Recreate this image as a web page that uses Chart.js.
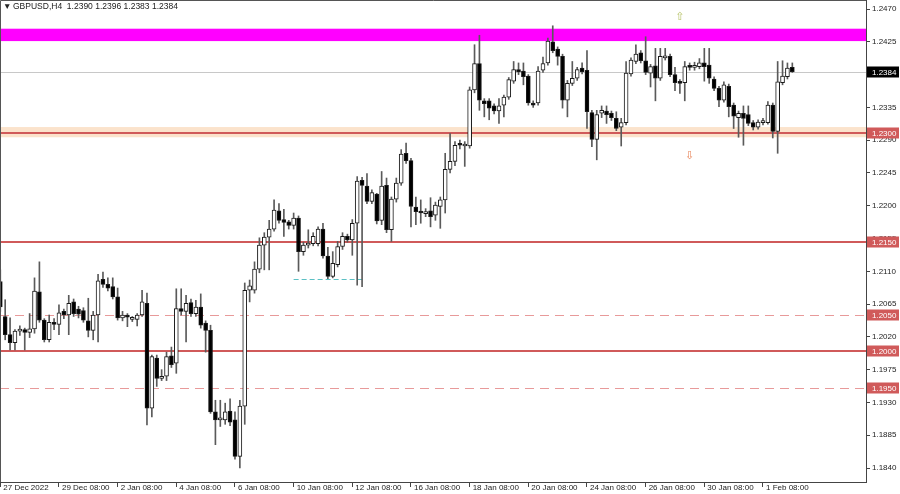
<!DOCTYPE html>
<html>
<head>
<meta charset="utf-8">
<script src="https://cdn.jsdelivr.net/npm/chart.js@4.4.0/dist/chart.umd.min.js"></script>
<style>
  html, body { margin: 0; padding: 0; background: #ffffff; }
  #wrap { width: 900px; height: 494px; position: relative; }
</style>
</head>
<body>
<div id="wrap"><canvas id="chart"></canvas></div>
<script>
// GBPUSD H4 candles (bar 0 = 27 Dec 08:00)
const opens = [
  1.2096, 1.2048, 1.2023, 1.2012, 1.2028, 1.2030, 1.2026, 1.2031, 1.2082, 1.2043,
  1.2016, 1.2040, 1.2037, 1.2055, 1.2050, 1.2068, 1.2058, 1.2056, 1.2042, 1.2029,
  1.2050, 1.2099, 1.2092, 1.2089, 1.2075, 1.2046, 1.2050, 1.2044, 1.2044, 1.2050,
  1.2066, 1.1922, 1.1991, 1.1963, 1.1966, 1.1994, 1.1984, 1.2059, 1.2055, 1.2067,
  1.2052, 1.2061, 1.2039, 1.2029, 1.1917, 1.1906, 1.1906, 1.1918, 1.1906, 1.1856,
  1.1925, 1.2084, 1.2084, 1.2113, 1.2146, 1.2157, 1.2168, 1.2193, 1.2181, 1.2178,
  1.2173, 1.2183, 1.2137, 1.2146, 1.2148, 1.2148, 1.2168, 1.2131, 1.2103, 1.2119,
  1.2144, 1.2158, 1.2153, 1.2176, 1.2235, 1.2227, 1.2206, 1.2216, 1.2180, 1.2228,
  1.2167, 1.2209, 1.2231, 1.2272, 1.2262, 1.2198, 1.2192, 1.2189, 1.2193, 1.2187,
  1.2199, 1.2208, 1.2250, 1.2261, 1.2285, 1.2282, 1.2282, 1.2359, 1.2395, 1.2344,
  1.2344, 1.2337, 1.2330, 1.2338, 1.2349, 1.2371, 1.2386, 1.2385, 1.2378, 1.2341,
  1.2341, 1.2386, 1.2396, 1.2425, 1.2415, 1.2405, 1.2345, 1.2368, 1.2375, 1.2389,
  1.2386, 1.2328, 1.2291, 1.2327, 1.2330, 1.2327, 1.2320, 1.2308, 1.2314, 1.2381,
  1.2398, 1.2410, 1.2399, 1.2382, 1.2392, 1.2375, 1.2403, 1.2405, 1.2380, 1.2370,
  1.2369, 1.2392, 1.2390, 1.2391, 1.2396, 1.2393, 1.2374, 1.2361, 1.2345, 1.2364,
  1.2338, 1.2321, 1.2327, 1.2325, 1.2314, 1.2308, 1.2314, 1.2314, 1.2338, 1.2302,
  1.2369, 1.2377, 1.2390
];
const highs = [
  1.2112, 1.2071, 1.2046, 1.2030, 1.2035, 1.2032, 1.2052, 1.2101, 1.2123, 1.2045,
  1.2050, 1.2045, 1.2064, 1.2058, 1.2077, 1.2072, 1.2062, 1.2060, 1.2073, 1.2055,
  1.2106, 1.2109, 1.2101, 1.2101, 1.2087, 1.2055, 1.2052, 1.2048, 1.2052, 1.2084,
  1.2080, 1.1995, 1.1995, 1.1975, 1.1999, 1.2006, 1.2086, 1.2086, 1.2077, 1.2072,
  1.2070, 1.2079, 1.2042, 1.2036, 1.1933, 1.1933, 1.1929, 1.1935, 1.1917, 1.1933,
  1.2094, 1.2098, 1.2123, 1.2156, 1.2163, 1.2180, 1.2208, 1.2203, 1.2195, 1.2180,
  1.2190, 1.2186, 1.2150, 1.2167, 1.2163, 1.2171, 1.2176, 1.2143, 1.2137, 1.2151,
  1.2163, 1.2161, 1.2181, 1.2240, 1.2239, 1.2244, 1.2222, 1.2217, 1.2247, 1.2238,
  1.2212, 1.2238, 1.2277, 1.2286, 1.2265, 1.2212, 1.2208, 1.2196, 1.2211, 1.2205,
  1.2212, 1.2272, 1.2299, 1.2288, 1.2290, 1.2288, 1.2363, 1.2421, 1.2434, 1.2347,
  1.2347, 1.2340, 1.2347, 1.2352, 1.2376, 1.2398, 1.2396, 1.2396, 1.2380, 1.2344,
  1.2391, 1.2404, 1.2430, 1.2447, 1.2418, 1.2408, 1.2372, 1.2398, 1.2390, 1.2396,
  1.2413, 1.2331, 1.2331, 1.2337, 1.2337, 1.2330, 1.2329, 1.2320, 1.2398, 1.2403,
  1.2421, 1.2413, 1.2432, 1.2394, 1.2416, 1.2416, 1.2416, 1.2408, 1.2390, 1.2373,
  1.2398, 1.2396, 1.2397, 1.2402, 1.2416, 1.2416, 1.2377, 1.2364, 1.2370, 1.2367,
  1.2341, 1.2330, 1.2337, 1.2337, 1.2317, 1.2318, 1.2320, 1.2343, 1.2341, 1.2398,
  1.2399, 1.2396, 1.2396
];
const lows = [
  1.2055, 1.2016, 1.2002, 1.2002, 1.2022, 1.2002, 1.2019, 1.2025, 1.2040, 1.2013,
  1.2013, 1.2030, 1.2023, 1.2045, 1.2023, 1.2048, 1.2046, 1.2040, 1.2020, 1.2016,
  1.2013, 1.2088, 1.2083, 1.2072, 1.2043, 1.2042, 1.2034, 1.2041, 1.2035, 1.2048,
  1.1899, 1.1910, 1.1952, 1.1960, 1.1960, 1.1978, 1.1970, 1.2050, 1.2013, 1.2048,
  1.2048, 1.2032, 1.1999, 1.1915, 1.1872, 1.1897, 1.1900, 1.1898, 1.1852, 1.1840,
  1.1900, 1.2068, 1.2080, 1.2108, 1.2112, 1.2112, 1.2165, 1.2176, 1.2158, 1.2168,
  1.2168, 1.2110, 1.2132, 1.2142, 1.2145, 1.2145, 1.2128, 1.2100, 1.2101, 1.2116,
  1.2140, 1.2150, 1.2132, 1.2091, 1.2089, 1.2203, 1.2203, 1.2175, 1.2174, 1.2163,
  1.2151, 1.2205, 1.2228, 1.2258, 1.2171, 1.2174, 1.2176, 1.2185, 1.2171, 1.2180,
  1.2169, 1.2190, 1.2245, 1.2255, 1.2278, 1.2254, 1.2279, 1.2355, 1.2331, 1.2322,
  1.2318, 1.2326, 1.2313, 1.2322, 1.2346, 1.2368, 1.2380, 1.2366, 1.2338, 1.2335,
  1.2338, 1.2383, 1.2393, 1.2410, 1.2393, 1.2334, 1.2322, 1.2365, 1.2372, 1.2381,
  1.2306, 1.2281, 1.2263, 1.2321, 1.2313, 1.2317, 1.2303, 1.2282, 1.2311, 1.2378,
  1.2395, 1.2396, 1.2380, 1.2363, 1.2344, 1.2372, 1.2400, 1.2377, 1.2358, 1.2354,
  1.2344, 1.2386, 1.2386, 1.2388, 1.2371, 1.2368, 1.2358, 1.2336, 1.2342, 1.2322,
  1.2306, 1.2294, 1.2283, 1.2310, 1.2304, 1.2305, 1.2311, 1.2312, 1.2293, 1.2272,
  1.2366, 1.2374, 1.2383
];
const closes = [
  1.2061, 1.2023, 1.2012, 1.2028, 1.2030, 1.2026, 1.2031, 1.2083, 1.2043, 1.2016,
  1.2040, 1.2037, 1.2053, 1.2050, 1.2066, 1.2052, 1.2051, 1.2043, 1.2029, 1.2050,
  1.2097, 1.2092, 1.2087, 1.2075, 1.2046, 1.2050, 1.2047, 1.2045, 1.2050, 1.2068,
  1.1922, 1.1993, 1.1963, 1.1966, 1.1993, 1.1982, 1.2059, 1.2055, 1.2066, 1.2052,
  1.2061, 1.2036, 1.2029, 1.1917, 1.1906, 1.1908, 1.1917, 1.1903, 1.1856, 1.1925,
  1.2084, 1.2090, 1.2113, 1.2146, 1.2157, 1.2168, 1.2194, 1.2180, 1.2177, 1.2173,
  1.2183, 1.2137, 1.2146, 1.2148, 1.2158, 1.2168, 1.2131, 1.2103, 1.2121, 1.2144,
  1.2158, 1.2153, 1.2176, 1.2234, 1.2228, 1.2206, 1.2218, 1.2179, 1.2227, 1.2167,
  1.2209, 1.2231, 1.2271, 1.2262, 1.2199, 1.2192, 1.2190, 1.2192, 1.2185, 1.2201,
  1.2208, 1.2250, 1.2261, 1.2283, 1.2283, 1.2283, 1.2359, 1.2395, 1.2345, 1.2340,
  1.2334, 1.2330, 1.2337, 1.2349, 1.2373, 1.2387, 1.2384, 1.2377, 1.2341, 1.2338,
  1.2385, 1.2395, 1.2426, 1.2413, 1.2405, 1.2345, 1.2368, 1.2375, 1.2387, 1.2384,
  1.2329, 1.2291, 1.2325, 1.2331, 1.2325, 1.2321, 1.2306, 1.2314, 1.2382, 1.2400,
  1.2408, 1.2399, 1.2383, 1.2391, 1.2375, 1.2405, 1.2405, 1.2380, 1.2369, 1.2368,
  1.2391, 1.2390, 1.2392, 1.2396, 1.2391, 1.2375, 1.2361, 1.2345, 1.2366, 1.2336,
  1.2323, 1.2327, 1.2320, 1.2313, 1.2308, 1.2315, 1.2317, 1.2338, 1.2302, 1.2370,
  1.2378, 1.2389, 1.2384
];

const xTickIndex = [0, 12, 24, 36, 48, 60, 72, 84, 96, 108, 120, 132, 144, 156];
const xTickLabels = ['27 Dec 2022', '29 Dec 08:00', '2 Jan 08:00', '4 Jan 08:00', '6 Jan 08:00',
  '10 Jan 08:00', '12 Jan 08:00', '16 Jan 08:00', '18 Jan 08:00', '20 Jan 08:00',
  '24 Jan 08:00', '26 Jan 08:00', '30 Jan 08:00', '1 Feb 08:00'];
const yTicks = [1.2470, 1.2425, 1.2380, 1.2335, 1.2290, 1.2245, 1.2200, 1.2155,
  1.2110, 1.2065, 1.2020, 1.1975, 1.1930, 1.1885, 1.1840];

// horizontal levels drawn on the chart
const levelPrices = [1.2300, 1.2150, 1.2050, 1.2000, 1.1950];
const levelDashed = [false, false, true, false, true];
const resistanceZone = [1.2426, 1.2443];
const supportZone = [1.2294, 1.2308];
const lastPrice = 1.2384;
const oldLow = { from: 60, to: 74, price: 1.2100 };
const arrowUp = { x: 139, price: 1.2459 };
const arrowDown = { x: 141, price: 1.2268 };
const titleText = 'GBPUSD,H4  1.2390 1.2396 1.2383 1.2384';

const FONT = "'Liberation Sans', Arial, sans-serif";
const LEVEL_RED = '#d05a5a';

const wickData = opens.map((o, i) => ({ x: i, y: [lows[i], highs[i]] }));
const bodyData = opens.map((o, i) => ({ x: i, y: [Math.min(o, closes[i]), Math.max(o, closes[i])] }));
const bodyFill = opens.map((o, i) => closes[i] >= o ? '#ffffff' : '#000000');

const fmt = v => v.toFixed(4);

function hLine(ctx, area, y, color, width, dash) {
  ctx.save();
  ctx.strokeStyle = color;
  ctx.lineWidth = width;
  ctx.setLineDash(dash || []);
  ctx.beginPath();
  ctx.moveTo(area.left, y);
  ctx.lineTo(area.right, y);
  ctx.stroke();
  ctx.restore();
}

function priceTag(ctx, area, y, text, bg) {
  ctx.save();
  ctx.fillStyle = bg;
  ctx.fillRect(area.right + 1, Math.round(y) - 5.5, 32, 11);
  ctx.fillStyle = '#ffffff';
  ctx.font = '8px ' + FONT;
  ctx.textBaseline = 'middle';
  ctx.textAlign = 'left';
  ctx.fillText(text, area.right + 6, Math.round(y) + 0.5);
  ctx.restore();
}

const overlay = {
  id: 'overlay',
  beforeDatasetsDraw(chart) {
    const { ctx, chartArea: a, scales: { x, y } } = chart;
    ctx.save();
    // zones
    ctx.fillStyle = '#ff00ff';
    let y1 = y.getPixelForValue(resistanceZone[1]), y2 = y.getPixelForValue(resistanceZone[0]);
    ctx.fillRect(a.left, y1, a.right - a.left, y2 - y1);
    ctx.fillStyle = '#fbe3cc';
    y1 = y.getPixelForValue(supportZone[1]); y2 = y.getPixelForValue(supportZone[0]);
    ctx.fillRect(a.left, y1, a.right - a.left, y2 - y1);
    ctx.restore();
    // last price line
    hLine(ctx, a, Math.round(y.getPixelForValue(lastPrice)) + 0.5, '#c8c8c8', 1);
    // levels
    levelPrices.forEach((p, i) => {
      const py = Math.round(y.getPixelForValue(p));
      if (levelDashed[i]) hLine(ctx, a, py + 0.5, '#e89a9a', 1, [9, 6]);
      else hLine(ctx, a, py, LEVEL_RED, 2);
    });
    // old low marker
    ctx.save();
    ctx.strokeStyle = '#5cc0c4';
    ctx.setLineDash([5, 3]);
    ctx.lineWidth = 1;
    const oy = Math.round(y.getPixelForValue(oldLow.price)) + 0.5;
    ctx.beginPath();
    ctx.moveTo(x.getPixelForValue(oldLow.from), oy);
    ctx.lineTo(x.getPixelForValue(oldLow.to), oy);
    ctx.stroke();
    ctx.restore();
  },
  afterDraw(chart) {
    const { ctx, chartArea: a, scales: { x, y } } = chart;
    // frame left/top
    ctx.save();
    ctx.strokeStyle = '#555555';
    ctx.lineWidth = 1;
    ctx.beginPath();
    ctx.moveTo(a.left + 0.5, a.bottom);
    ctx.lineTo(a.left + 0.5, a.top + 0.5);
    ctx.lineTo(a.right, a.top + 0.5);
    ctx.stroke();
    ctx.restore();
    // price tags on the right
    levelPrices.forEach(p => priceTag(ctx, a, y.getPixelForValue(p), fmt(p), LEVEL_RED));
    priceTag(ctx, a, y.getPixelForValue(lastPrice), fmt(lastPrice), '#000000');
    // title
    ctx.save();
    ctx.fillStyle = '#222222';
    ctx.font = '8.5px ' + FONT;
    ctx.textBaseline = 'middle';
    ctx.fillText('\u25BC', 3, 7);
    ctx.fillText(titleText, 13, 7);
    // arrows
    ctx.font = '11px ' + "'DejaVu Sans', sans-serif";
    ctx.textAlign = 'center';
    ctx.fillStyle = '#b8c46a';
    ctx.fillText('\u21E7', x.getPixelForValue(arrowUp.x), y.getPixelForValue(arrowUp.price));
    ctx.fillStyle = '#e8865a';
    ctx.fillText('\u21E9', x.getPixelForValue(arrowDown.x), y.getPixelForValue(arrowDown.price));
    ctx.restore();
  }
};

new Chart(document.getElementById('chart'), {
  type: 'bar',
  data: {
    datasets: [
      {
        data: bodyData,
        backgroundColor: bodyFill,
        borderColor: '#1a1a1a',
        borderWidth: 1,
        borderSkipped: false,
        barThickness: 4,
        minBarLength: 2,
        grouped: false,
        order: 0
      },
      {
        data: wickData,
        backgroundColor: '#5a5a5a',
        barThickness: 1,
        grouped: false,
        order: 1
      }
    ]
  },
  options: {
    responsive: true,
    maintainAspectRatio: false,
    animation: false,
    events: [],
    layout: { padding: 0 },
    plugins: { legend: { display: false }, tooltip: { enabled: false } },
    scales: {
      x: {
        type: 'linear',
        min: -0.06,
        max: 177.07,
        offset: false,
        grid: { offset: false, drawOnChartArea: false, drawTicks: true, tickLength: 5, color: '#444' },
        border: { display: true, color: '#444' },
        afterBuildTicks(scale) { scale.ticks = xTickIndex.map(v => ({ value: v })); },
        afterFit(scale) { scale.height = 12; scale.paddingLeft = 0; scale.paddingRight = 0; },
        ticks: {
          autoSkip: false,
          maxRotation: 0,
          align: 'start',
          labelOffset: 3,
          padding: -4,
          color: '#222',
          font: { family: FONT, size: 8 },
          callback: (v, i) => xTickLabels[i]
        }
      },
      y: {
        position: 'right',
        min: 1.18208,
        max: 1.24824,
        beginAtZero: false,
        grid: { drawOnChartArea: false, drawTicks: true, tickLength: 4, color: '#444' },
        border: { display: true, color: '#444' },
        afterBuildTicks(scale) { scale.ticks = yTicks.map(v => ({ value: v })); },
        afterFit(scale) { scale.width = 34; scale.paddingTop = 0; scale.paddingBottom = 0; },
        ticks: {
          padding: 2,
          color: '#222',
          font: { family: FONT, size: 8 },
          callback: v => fmt(v)
        }
      }
    }
  },
  plugins: [overlay]
});
</script>
</body>
</html>
